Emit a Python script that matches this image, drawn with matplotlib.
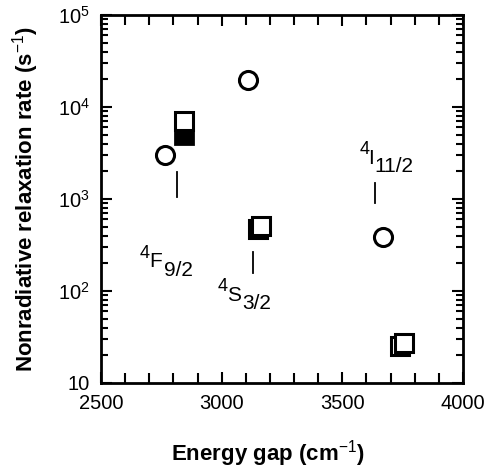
import numpy as np
import matplotlib
matplotlib.use("Agg")
import matplotlib.pyplot as plt
from matplotlib.ticker import FixedLocator, LogLocator, NullFormatter, MultipleLocator

plt.rcParams["font.family"] = ["Liberation Sans", "DejaVu Sans"]
plt.rcParams["mathtext.fontset"] = "custom"
plt.rcParams["mathtext.rm"] = "Liberation Sans"
plt.rcParams["mathtext.it"] = "Liberation Sans"

# circles (open)
circle_x = [2765, 3110, 3670]
circle_y = [3000, 19500, 385]

# open squares
square_x = [2845, 3150, 3165, 3740, 3755]
square_y = [7000, 470, 510, 25, 27]

# filled square
filled_x = [2845]
filled_y = [5000]

# level labels: superscript, letter, subscript, and position of the letter
label_sup = ["4", "4", "4"]
label_main = ["F", "S", "I"]
label_sub = ["9/2", "3/2", "11/2"]
label_x = [2728, 3051, 3618]
label_y = [207, 90, 2790]

# short vertical marker lines
line_x = [2815, 3130, 3635]
line_lo = [1050, 157, 905]
line_hi = [1950, 265, 1490]

fig = plt.figure(figsize=(4.89, 4.72), dpi=100)
ax = fig.add_axes([0.2065, 0.1886, 0.7403, 0.7796])

ax.plot(filled_x, filled_y, "s", ms=13, mfc="black", mec="black", mew=2)
ax.plot(square_x, square_y, "s", ms=13, mfc="white", mec="black", mew=2.2)
ax.plot(circle_x, circle_y, "o", ms=13, mfc="white", mec="black", mew=2.2)

for lx, lo, hi in zip(line_x, line_lo, line_hi):
    ax.plot([lx, lx], [lo, hi], color="black", lw=1.3)

for sup, main, sub, tx, ty in zip(label_sup, label_main, label_sub, label_x, label_y):
    ax.text(tx, ty, main, ha="center", va="center", fontsize=15)
    half = 5 if main != "I" else 1.5
    ax.annotate(sup, (tx, ty), xytext=(-half + 0.5, 6), textcoords="offset points",
                ha="right", va="center", fontsize=13)
    ax.annotate(sub, (tx, ty), xytext=(half + 1, -6),
                textcoords="offset points", ha="left", va="center", fontsize=15)

ax.set_yscale("log")
ax.set_xlim(2500, 4000)
ax.set_ylim(10, 1e5)

ax.xaxis.set_major_locator(FixedLocator([2500, 3000, 3500, 4000]))
ax.xaxis.set_minor_locator(MultipleLocator(100))
ax.set_xticklabels(["2500", "3000", "3500", "4000"])
ax.yaxis.set_major_locator(FixedLocator([10, 1e2, 1e3, 1e4, 1e5]))
ax.yaxis.set_minor_locator(LogLocator(base=10, subs=np.arange(2, 10)))
ax.yaxis.set_minor_formatter(NullFormatter())
ax.set_yticklabels(["10", "$10^2$", "$10^3$", "$10^4$", "$10^5$"])

ax.tick_params(which="both", direction="in", top=True, right=True,
               labelsize=14.5, width=1.5, pad=8)
ax.tick_params(which="major", length=8)
ax.tick_params(which="minor", length=5)
ax.tick_params(axis="x", which="minor", length=7)
for s in ax.spines.values():
    s.set_linewidth(2)

ax.set_xlabel("Energy gap (cm$^{-1}$)", fontsize=16, fontweight="bold")
ax.xaxis.set_label_coords(0.46, -0.15)
ax.set_ylabel("Nonradiative relaxation rate (s$^{-1}$)", fontsize=16,
              fontweight="bold", labelpad=12)

fig.savefig("out.png", dpi=100)
